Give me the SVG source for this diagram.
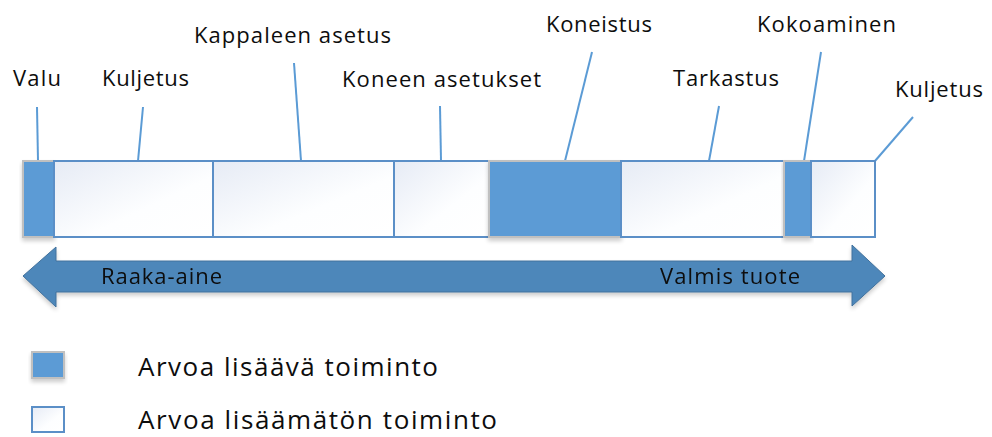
<svg xmlns="http://www.w3.org/2000/svg" width="992" height="437" viewBox="0 0 992 437">
<defs>
<linearGradient id="g" x1="0" y1="0" x2="1" y2="1">
<stop offset="0" stop-color="#e6ebf5"/>
<stop offset="0.6" stop-color="#fdfeff"/>
<stop offset="1" stop-color="#ffffff"/>
</linearGradient>
<filter id="sh" x="-10%" y="-10%" width="120%" height="140%">
<feGaussianBlur in="SourceAlpha" stdDeviation="2"/>
<feOffset dy="3"/>
<feComponentTransfer><feFuncA type="linear" slope="0.2"/></feComponentTransfer>
<feMerge><feMergeNode/><feMergeNode in="SourceGraphic"/></feMerge>
</filter>
</defs>
<style>
.va{fill:#5b9bd5;stroke:#c0c0c0;stroke-width:2}
.nv{fill:url(#g);stroke:#5b8fc7;stroke-width:2}
.ln{stroke:#5b9bd5;stroke-width:2;fill:none}
.t{font-family:"Open Sans","Liberation Sans",sans-serif;font-size:22px;fill:#0d0d0d}
.lg{font-family:"Open Sans","Liberation Sans",sans-serif;font-size:26px;fill:#0d0d0d}
</style>
<g id="connectors">
<line class="ln" x1="37" y1="107" x2="38" y2="161"/>
<line class="ln" x1="143" y1="107" x2="138" y2="161"/>
<line class="ln" x1="294" y1="63" x2="301" y2="161"/>
<line class="ln" x1="440" y1="106" x2="441" y2="161"/>
<line class="ln" x1="592" y1="52" x2="565" y2="161"/>
<line class="ln" x1="719" y1="106" x2="709" y2="161"/>
<line class="ln" x1="821" y1="52" x2="804" y2="161"/>
<line class="ln" x1="913" y1="117" x2="875" y2="161"/>
</g>
<g id="arrow" filter="url(#sh)">
<polygon points="23,276 56,247 56,261 852,261 852,245 885,276 852,306 852,292 56,292 56,307" fill="#4e87ba" stroke="#41719c" stroke-width="1"/>
<text class="t" x="101" y="284" textLength="121">Raaka-aine</text>
<text class="t" x="660" y="284" textLength="140">Valmis tuote</text>
</g>
<g id="valu">
<rect class="va" x="23" y="161" width="31" height="76" filter="url(#sh)"/>
<text class="t" x="13" y="86" textLength="48">Valu</text>
</g>
<g id="kuljetus1">
<rect class="nv" x="54" y="161" width="159" height="76"/>
<text class="t" x="102" y="86" textLength="87">Kuljetus</text>
</g>
<g id="kappaleen-asetus">
<rect class="nv" x="213" y="161" width="181" height="76"/>
<text class="t" x="194" y="43" textLength="197">Kappaleen asetus</text>
</g>
<g id="koneen-asetukset">
<rect class="nv" x="394" y="161" width="95" height="76"/>
<text class="t" x="342" y="87" textLength="199">Koneen asetukset</text>
</g>
<g id="koneistus">
<rect class="va" x="489" y="161" width="132" height="76" filter="url(#sh)"/>
<text class="t" x="546" y="32" textLength="106">Koneistus</text>
</g>
<g id="tarkastus">
<rect class="nv" x="621" y="161" width="163" height="76"/>
<text class="t" x="673" y="86" textLength="106">Tarkastus</text>
</g>
<g id="kokoaminen">
<rect class="va" x="784" y="161" width="27" height="76" filter="url(#sh)"/>
<text class="t" x="757" y="32" textLength="139">Kokoaminen</text>
</g>
<g id="kuljetus2">
<rect class="nv" x="811" y="161" width="64" height="76"/>
<text class="t" x="895" y="97" textLength="88">Kuljetus</text>
</g>
<g id="legend-va">
<rect class="va" x="32" y="352" width="32" height="26" filter="url(#sh)"/>
<text class="lg" x="138" y="376" textLength="300">Arvoa lisäävä toiminto</text>
</g>
<g id="legend-nv">
<rect class="nv" x="32" y="407" width="32" height="25"/>
<text class="lg" x="138" y="429" textLength="359">Arvoa lisäämätön toiminto</text>
</g>
</svg>
